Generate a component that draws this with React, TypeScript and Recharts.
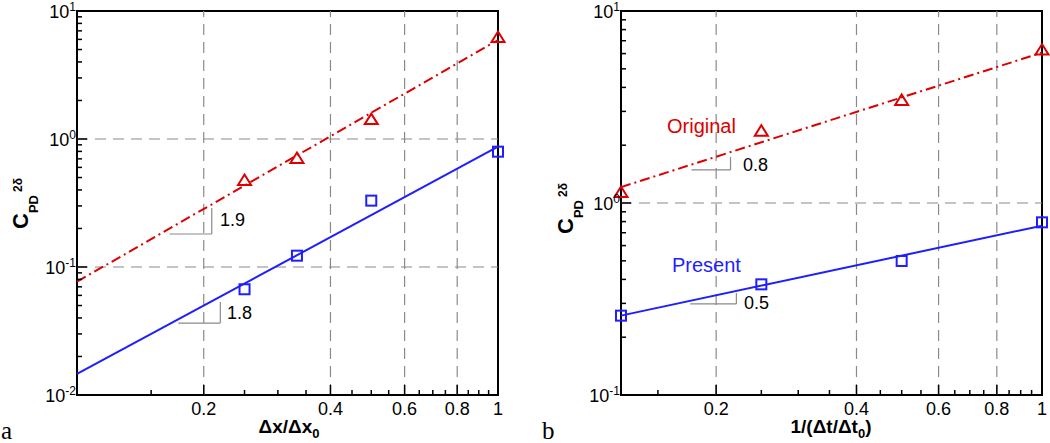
import React from 'react';
import { ComposedChart, Line, Scatter, XAxis, YAxis, ReferenceLine, ReferenceArea } from 'recharts';

// panel a: grid refinement (dx/dx0)
const A_X = [0.25, 0.333, 0.5, 1];
const A_ORIGINAL = [0.478, 0.71, 1.43, 6.26];
const A_PRESENT = [0.067, 0.1226, 0.33, 0.796];
const A_FIT_X = [0.1, 1];
const A_FIT_ORIGINAL = [0.0768, 5.93];
const A_FIT_PRESENT = [0.0146, 0.87];

// panel b: time-step refinement (1/(dt/dt0))
const B_X = [0.125, 0.25, 0.5, 1];
const B_ORIGINAL = [1.14, 2.38, 3.44, 6.3];
const B_PRESENT = [0.259, 0.377, 0.499, 0.793];
const B_FIT_X = [0.125, 1];
const B_FIT_ORIGINAL = [1.21, 6.07];
const B_FIT_PRESENT = [0.259, 0.762];

// axes
const X_MAJOR = [0.2, 0.4, 0.6, 0.8, 1];
const X_LABELS = ['0.2', '0.4', '0.6', '0.8', '1'];
const X_MINOR = [0.15, 0.25, 0.3, 0.35, 0.45, 0.5, 0.55, 0.65, 0.7, 0.75, 0.85, 0.9, 0.95];
const X_GRID = [0.2, 0.4, 0.6, 0.8];
const A_DECADES = [-2, -1, 0, 1];
const B_DECADES = [-1, 0, 1];
const A_Y_GRID = [0.1, 1];
const B_Y_GRID = [1];
const MANTISSA = [2, 3, 4, 5, 6, 7, 8, 9];

const RED = '#dc0000';
const BLUE = '#1e1eff';
const GRAY = '#8a8a8a';
const FONT = '"Liberation Sans", Arial, Helvetica, sans-serif';

type Slope = { label: string; x0: number; x1: number; y0: number; y1: number };

// slope-triangle annotations (data coords)
const A_SLOPES: Slope[] = [
  { label: '1.9', x0: 0.166, x1: 0.209, y0: 0.181, y1: 0.289 },
  { label: '1.8', x0: 0.174, x1: 0.219, y0: 0.0365, y1: 0.0533 },
];
const B_SLOPES: Slope[] = [
  { label: '0.8', x0: 0.177, x1: 0.2147, y0: 1.486, y1: 1.736 },
  { label: '0.5', x0: 0.176, x1: 0.221, y0: 0.298, y1: 0.34 },
];

const pts = (xs: number[], ys: number[]) => xs.map((x, i) => ({ x, y: ys[i] }));

const yTicks = (decades: number[]) => {
  const out: number[] = [];
  decades.forEach((d, i) => {
    out.push(Math.pow(10, d));
    if (i < decades.length - 1) MANTISSA.forEach(m => out.push(m * Math.pow(10, d)));
  });
  return out;
};

const XTick = (props: any) => {
  const { x, y, payload } = props;
  const i = X_MAJOR.indexOf(payload.value);
  const major = i >= 0;
  return (
    <g>
      <line x1={x} x2={x} y1={y} y2={y - (major ? 10 : 5)} stroke="#000" strokeWidth={1.5} />
      {major && (
        <text x={x} y={y + 20} textAnchor="middle" fontSize={18} fontFamily={FONT} fill="#000">{X_LABELS[i]}</text>
      )}
    </g>
  );
};

const YTick = (props: any) => {
  const { x, y, payload } = props;
  const v = payload.value as number;
  const e = Math.round(Math.log10(v));
  const major = Math.abs(v - Math.pow(10, e)) < 1e-9 * v;
  return (
    <g>
      <line x1={x} x2={x + (major ? 10 : 5)} y1={y} y2={y} stroke="#000" strokeWidth={1.5} />
      {major && (
        <text x={x - 1} y={y + 7} textAnchor="end" fontSize={18} fontFamily={FONT} fill="#000">
          10<tspan dy={-7.5} fontSize={12}>{e}</tspan>
        </text>
      )}
    </g>
  );
};

const Triangle = (p: any) => (
  <polygon points={`${p.cx},${p.cy - 5.5} ${p.cx + 6.5},${p.cy + 5} ${p.cx - 6.5},${p.cy + 5}`} fill="none" stroke={RED} strokeWidth={2} />
);
const Square = (p: any) => (
  <rect x={p.cx - 5} y={p.cy - 5} width={10} height={10} fill="none" stroke={BLUE} strokeWidth={2} />
);

function Panel(props: {
  left: number; right: number; xDomain: [number, number]; decades: number[]; yGrid: number[];
  xs: number[]; original: number[]; present: number[];
  fitX: number[]; fitOriginal: number[]; fitPresent: number[]; slopes: Slope[];
}) {
  const { decades } = props;
  const yDomain: [number, number] = [Math.pow(10, decades[0]), Math.pow(10, decades[decades.length - 1])];
  const xTicks = [...X_MAJOR, ...X_MINOR].sort((a, b) => a - b);
  return (
    <ComposedChart width={510} height={443} margin={{ top: 11, right: props.right, bottom: 47, left: props.left - 1 }}>
      <XAxis dataKey="x" type="number" scale="log" domain={props.xDomain} ticks={xTicks} interval={0}
        height={1} tickSize={0} tickMargin={0} axisLine={false} tickLine={false} tick={XTick} />
      <YAxis type="number" scale="log" domain={yDomain} ticks={yTicks(decades)} interval={0}
        width={1} tickSize={0} tickMargin={0} axisLine={false} tickLine={false} tick={YTick} />
      {X_GRID.map(g => (
        <ReferenceLine key={'vx' + g} x={g} stroke={GRAY} strokeWidth={1.2} strokeDasharray="11 7" />
      ))}
      {props.yGrid.map(g => (
        <ReferenceLine key={'hy' + g} y={g} stroke={GRAY} strokeWidth={1.2} strokeDasharray="11 7" />
      ))}
      {props.slopes.map(s => (
        <ReferenceLine key={'h' + s.label} segment={[{ x: s.x0, y: s.y0 }, { x: s.x1, y: s.y0 }]} stroke={GRAY} strokeWidth={1.2} ifOverflow="visible" />
      ))}
      {props.slopes.map(s => (
        <ReferenceLine key={'v' + s.label} segment={[{ x: s.x1, y: s.y0 }, { x: s.x1, y: s.y1 }]} stroke={GRAY} strokeWidth={1.2} ifOverflow="visible" />
      ))}
      <Line data={pts(props.fitX, props.fitOriginal)} dataKey="y" stroke={RED} strokeWidth={2}
        strokeDasharray="10 4 2 4" dot={false} activeDot={false} isAnimationActive={false} />
      <Line data={pts(props.fitX, props.fitPresent)} dataKey="y" stroke={BLUE} strokeWidth={2}
        dot={false} activeDot={false} isAnimationActive={false} />
      <Scatter data={pts(props.xs, props.original)} dataKey="y" shape={Triangle} isAnimationActive={false} />
      <Scatter data={pts(props.xs, props.present)} dataKey="y" shape={Square} isAnimationActive={false} />
      <ReferenceArea x1={props.xDomain[0]} x2={props.xDomain[1]} y1={yDomain[0]} y2={yDomain[1]}
        fill="none" fillOpacity={0} stroke="#000" strokeWidth={2} ifOverflow="visible" />
    </ComposedChart>
  );
}

const YTitle = ({ x, y }: { x: number; y: number }) => (
  <text transform={`translate(${x},${y}) rotate(-90)`} fontFamily={FONT} fontWeight="bold" fontSize={22} fill="#000">
    C<tspan dy={10} fontSize={13}>PD</tspan><tspan dy={-16} dx={3} fontSize={12}>2δ</tspan>
  </text>
);

export default function App() {
  const txt = { fontFamily: FONT, fill: '#000' };
  return (
    <div style={{ position: 'absolute', left: 0, top: 0, width: 1050, height: 443, background: '#fff' }}>
      <div style={{ position: 'absolute', left: 0, top: 0 }}>
        <Panel left={77} right={12} xDomain={[0.1, 1]} decades={A_DECADES} yGrid={A_Y_GRID}
          xs={A_X} original={A_ORIGINAL} present={A_PRESENT}
          fitX={A_FIT_X} fitOriginal={A_FIT_ORIGINAL} fitPresent={A_FIT_PRESENT} slopes={A_SLOPES} />
      </div>
      <div style={{ position: 'absolute', left: 540, top: 0 }}>
        <Panel left={81} right={8} xDomain={[0.125, 1]} decades={B_DECADES} yGrid={B_Y_GRID}
          xs={B_X} original={B_ORIGINAL} present={B_PRESENT}
          fitX={B_FIT_X} fitOriginal={B_FIT_ORIGINAL} fitPresent={B_FIT_PRESENT} slopes={B_SLOPES} />
      </div>
      <svg width={1050} height={443} style={{ position: 'absolute', left: 0, top: 0, pointerEvents: 'none' }}>
        {/* axis titles */}
        <YTitle x={28} y={229} />
        <YTitle x={573} y={234} />
        <text x={289} y={433} textAnchor="middle" fontSize={19} fontWeight="bold" {...txt}>
          Δx/Δx<tspan dy={5} fontSize={13}>0</tspan>
        </text>
        <text x={831} y={433} textAnchor="middle" fontSize={19} fontWeight="bold" {...txt}>
          1/(Δt/Δt<tspan dy={5} fontSize={13}>0</tspan><tspan dy={-5}>)</tspan>
        </text>
        {/* slope labels */}
        <text x={220} y={226} fontSize={18} {...txt}>1.9</text>
        <text x={227} y={319} fontSize={18} {...txt}>1.8</text>
        <text x={743} y={171} fontSize={18} {...txt}>0.8</text>
        <text x={744} y={309} fontSize={18} {...txt}>0.5</text>
        {/* series labels */}
        <text x={667} y={133} fontSize={20} fontFamily={FONT} fill={RED}>Original</text>
        <text x={672} y={272} fontSize={20} fontFamily={FONT} fill={BLUE}>Present</text>
        {/* panel letters */}
        <text x={1} y={439} fontSize={25} fontFamily='"Liberation Serif", "DejaVu Serif", serif' fill="#000">a</text>
        <text x={542} y={439} fontSize={25} fontFamily='"Liberation Serif", "DejaVu Serif", serif' fill="#000">b</text>
      </svg>
    </div>
  );
}
